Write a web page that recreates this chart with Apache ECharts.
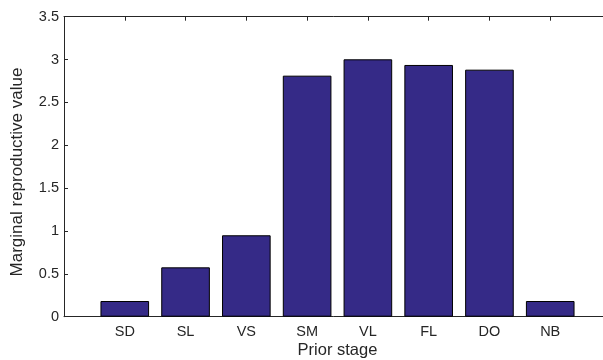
<!DOCTYPE html>
<html>
<head>
<meta charset="utf-8">
<script src="https://cdn.jsdelivr.net/npm/echarts@6/dist/echarts.min.js"></script>
<style>
html,body{margin:0;padding:0;background:#fff;}
#c{width:603px;height:360px;}
</style>
</head>
<body>
<div id="c"></div>
<script>
const categories = ['SD', 'SL', 'VS', 'SM', 'VL', 'FL', 'DO', 'NB'];
const values = [0.183, 0.576, 0.950, 2.812, 3.003, 2.937, 2.882, 0.183];
const yTicks = [0, 0.5, 1, 1.5, 2, 2.5, 3, 3.5];
const xTitle = 'Prior stage';
const yTitle = 'Marginal reproductive value';

// pad with empty categories so the axis spans 0..9 like the original xlim
const axisCats = [''].concat(categories, ['']);
const seriesData = [null].concat(values, [null]);

const chart = echarts.init(document.getElementById('c'), null, {renderer: 'canvas'});
const textColor = '#262626';
const font = 'Liberation Sans, Arial, Helvetica, sans-serif';
chart.setOption({
  animation: false,
  backgroundColor: '#fff',
  grid: {left: 64, top: 16.7, width: 547, height: 300, containLabel: false, outerBoundsMode: 'none'},
  graphic: [{
    type: 'text',
    x: 17,
    y: 172,
    rotation: Math.PI / 2,
    style: {
      text: yTitle,
      fill: textColor,
      fontSize: 17,
      fontFamily: font,
      align: 'center',
      verticalAlign: 'middle'
    }
  }, {
    type: 'text',
    x: 337.5,
    y: 350,
    style: {
      text: xTitle,
      fill: textColor,
      fontSize: 16.5,
      fontFamily: font,
      align: 'center',
      verticalAlign: 'middle'
    }
  }],
  xAxis: [{
    type: 'category',
    data: axisCats,
    boundaryGap: false,
    position: 'bottom',
    axisLine: {lineStyle: {color: '#262626', width: 1}},
    axisTick: {inside: true, length: 4, lineStyle: {color: '#262626'}},
    axisLabel: {color: textColor, fontSize: 14.5, fontFamily: font, margin: 8, interval: 0},
    splitLine: {show: false}
  }, {
    type: 'category',
    data: axisCats,
    boundaryGap: false,
    position: 'top',
    axisLine: {lineStyle: {color: '#262626', width: 1}},
    axisTick: {inside: true, length: 4, lineStyle: {color: '#262626'}},
    axisLabel: {show: false},
    splitLine: {show: false}
  }],
  yAxis: {
    type: 'value',
    min: 0,
    max: 3.5,
    interval: 0.5,
    axisLine: {show: true, lineStyle: {color: '#262626', width: 1}},
    axisTick: {show: true, inside: true, length: 4, lineStyle: {color: '#262626'}},
    axisLabel: {color: textColor, fontSize: 14.5, fontFamily: font, margin: 5,
      formatter: v => yTicks.includes(v) ? String(v) : ''},
    splitLine: {show: false}
  },
  series: [{
    type: 'bar',
    xAxisIndex: 0,
    data: seriesData,
    barWidth: '80%',
    itemStyle: {color: '#352A87', borderColor: '#000', borderWidth: 1}
  }]
});
</script>
</body>
</html>
